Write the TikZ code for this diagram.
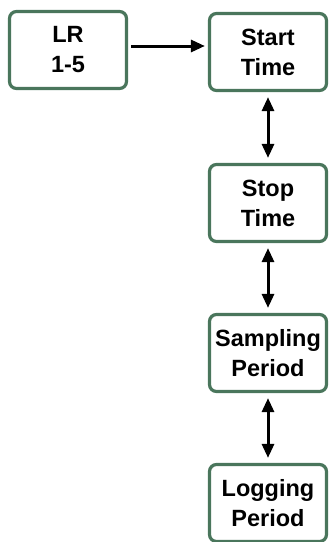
\documentclass[tikz,border=0pt]{standalone}
\usepackage{fontspec}
\setmainfont{Liberation Sans}
\usetikzlibrary{arrows.meta}
\definecolor{boxgreen}{HTML}{4A765C}
\tikzset{
  stepbox/.style={draw=boxgreen, line width=3.2pt, rounded corners=7pt, fill=white,
    minimum width=117pt, minimum height=77pt, inner sep=0pt, align=center,
    font=\fontsize{23.5}{30}\selectfont\bfseries},
  conn/.style={line width=3pt, -{Triangle[length=14pt,width=12pt]}},
  biconn/.style={line width=3pt, {Triangle[length=14pt,width=12pt]}-{Triangle[length=14pt,width=12pt]}}
}
\begin{document}
\begin{tikzpicture}[x=1pt,y=1pt]
\useasboundingbox (0,0) rectangle (331,-542);
\node[stepbox] (lr) at (68,-50) {LR\\1-5};
\node[stepbox] (start) at (268,-52) {Start\\Time};
\node[stepbox] (stop) at (268,-203) {Stop\\Time};
\node[stepbox] (samp) at (268,-353) {Sampling\\Period};
\node[stepbox] (log) at (268,-503) {Logging\\Period};
\draw[conn, shorten <=3pt, shorten >=3pt] (lr.east |- 0,-46) -- (start.west |- 0,-46);
\draw[biconn, shorten <=5pt, shorten >=5pt] (start) -- (stop);
\draw[biconn, shorten <=5pt, shorten >=5pt] (stop) -- (samp);
\draw[biconn, shorten <=5pt, shorten >=5pt] (samp) -- (log);
\end{tikzpicture}
\end{document}
